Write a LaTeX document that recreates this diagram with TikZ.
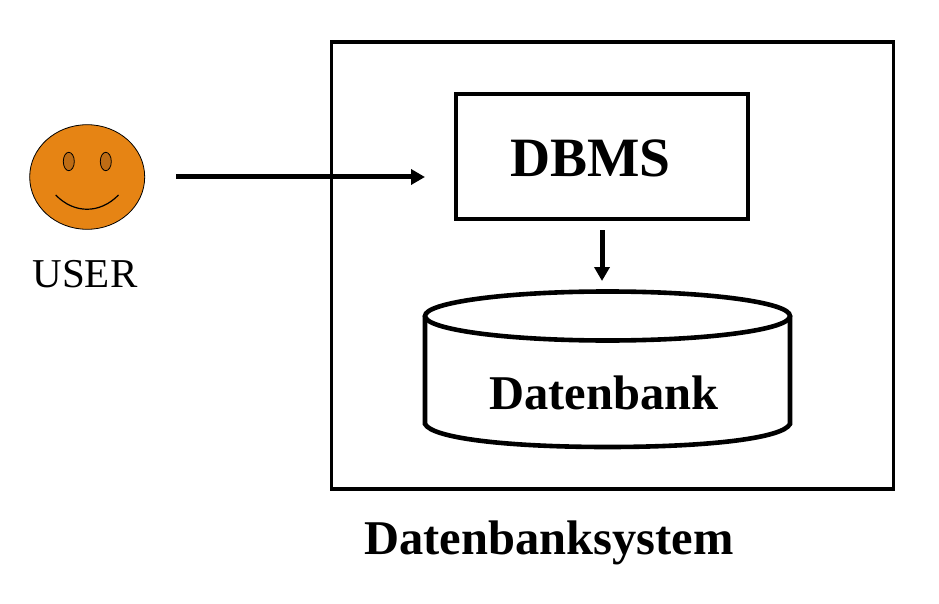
\documentclass[tikz,border=0pt]{standalone}
\usepackage{fontspec}
\setmainfont{Liberation Serif}
\usetikzlibrary{arrows.meta,shapes.geometric}
\definecolor{face}{RGB}{230,132,20}
\definecolor{eye}{RGB}{190,108,20}
\begin{document}
\begin{tikzpicture}[x=1pt,y=-1pt,outer sep=0pt,
  sysbox/.style={draw=black,line width=3.4pt,rectangle,inner sep=0pt,minimum width=562pt,minimum height=447pt},
  dbmsbox/.style={draw=black,line width=4.6pt,rectangle,inner sep=0pt,minimum width=292pt,minimum height=125pt},
  conn/.style={draw=black,line width=5pt,-{Triangle[length=14pt,width=15pt]}},
  dbline/.style={draw=black,line width=4.6pt},
  facest/.style={draw=black,line width=0.8pt,fill=face,ellipse,inner sep=0pt,minimum width=115pt,minimum height=104.6pt},
  eyest/.style={draw=black,line width=0.8pt,fill=eye,ellipse,inner sep=0pt,minimum width=11pt,minimum height=18.4pt},
  lbl/.style={inner sep=0pt,anchor=base,text=black}]
\useasboundingbox (0,0) rectangle (939,604);
\node[sysbox] (sys) at (612.5,265.5) {};
\node[dbmsbox] (dbms) at (602,156.5) {};
\node[facest] (user) at (87.2,177) {};
\node[eyest] (eyeL) at (68.8,161.5) {};
\node[eyest] (eyeR) at (105.8,161.5) {};
\draw[line width=1.2pt] (55.7,195) .. controls (74,214) and (100,214) .. (118.5,195);
\draw[conn,shorten <=31.3pt,shorten >=31pt] (user.east) -- (user.east -| dbms.west);
\node[dbline,ellipse,inner sep=0pt,minimum width=365pt,minimum height=49pt] (db) at (607.5,316) {};
\draw[dbline,line cap=round] (db.west) -- (425,424) .. controls (432,438) and (505,447) .. (607.5,447) .. controls (710,447) and (783,438) .. (790,424) -- (db.east);
\draw[conn,shorten <=11pt,shorten >=10.5pt] (dbms.south) -- (dbms.south |- db.north);
\node[lbl,font=\bfseries\fontsize{55.5}{60}\selectfont] (t1) at (590.5,177) {DBMS};
\node[lbl,font=\bfseries\fontsize{48.5}{54}\selectfont] (t2) at (604,409) {Datenbank};
\node[lbl,font=\bfseries\fontsize{48.5}{54}\selectfont] (t3) at (549,554) {Datenbanksystem};
\node[lbl,font=\fontsize{41}{46}\selectfont] (t4) at (85,287) {USER};
\end{tikzpicture}
\end{document}
